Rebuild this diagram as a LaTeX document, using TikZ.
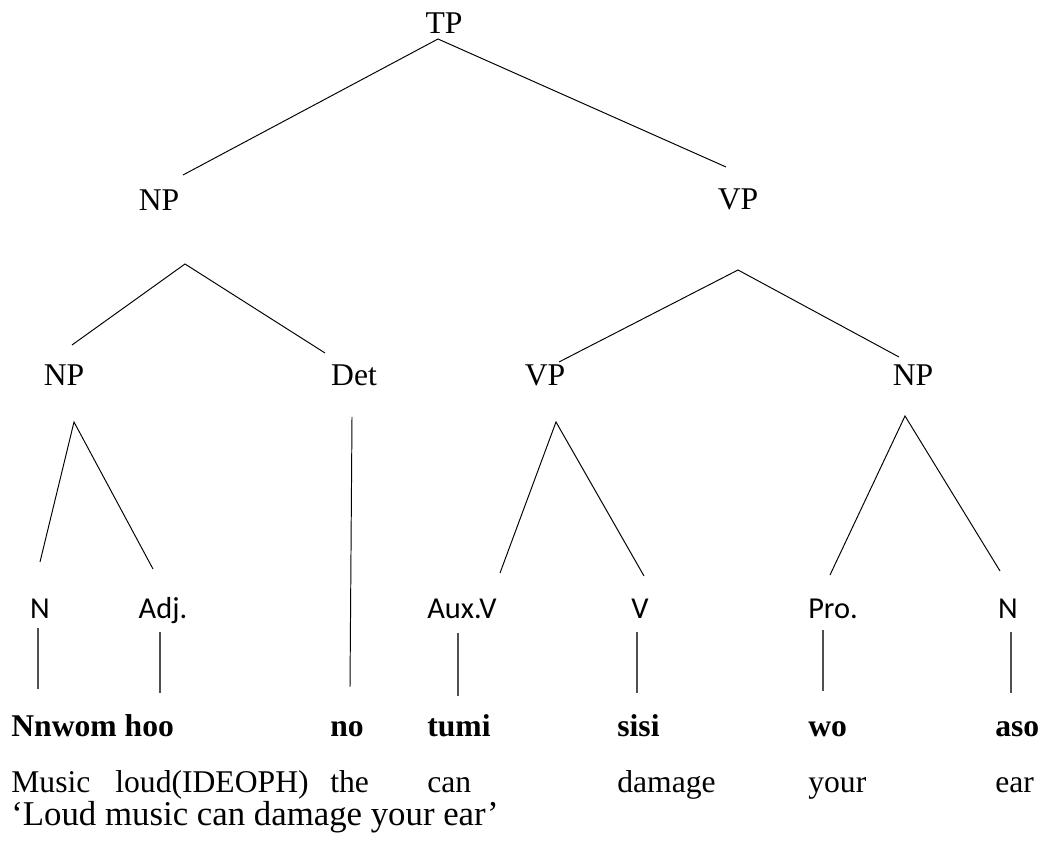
\documentclass[tikz,border=0pt]{standalone}
\usepackage{fontspec}
\setmainfont{Liberation Serif}
\newfontfamily\leaffont{Carlito}
\usepackage{tikz}
\usetikzlibrary{positioning}
\definecolor{leafgray}{HTML}{505050}

\begin{document}
\begin{tikzpicture}[
		scale=1,
		font=\fontsize{18}{21}\selectfont,
		cat/.style={inner sep=0pt},
		leaf/.style={inner sep=0pt,anchor=base,font=\leaffont\fontsize{17.3}{20}\selectfont},
		word/.style={inner sep=0pt,anchor=base west,font=\bfseries\fontsize{18}{21}\selectfont},
		gloss/.style={inner sep=0pt,anchor=base west},
		branch/.style={line width=0.55pt,black},
		stem/.style={line width=0.85pt,leafgray}
		]
		\useasboundingbox (0,0) rectangle (20.96,16.84);
		
		% Phrase labels
		\node[cat] (tp) at (8.88,16.38) {TP};
		\node[cat] (np) at (3.18,12.84) {NP};
		\node[cat] (vp) at (14.76,12.86) {VP};
		\node[cat] (npsub) at (1.28,9.34) {NP};
		\node[cat] (det) at (7.08,9.34) {Det};
		\node[cat] (vpsub) at (10.90,9.34) {VP};
		\node[cat] (npobj) at (18.26,9.34) {NP};
		
		% Word class labels
		\node[leaf] (n) at (0.80,4.46) {N};
		\node[leaf] (adj) at (3.26,4.46) {Adj.};
		\node[leaf] (aux) at (9.24,4.46) {Aux.V};
		\node[leaf] (v) at (12.80,4.46) {V};
		\node[leaf] (pro) at (16.66,4.46) {Pro.};
		\node[leaf] (nobj) at (20.16,4.46) {N};
		
		% Words and glosses
		\node[word] (nnwom) at (0.22,2.10) {Nnwom hoo};
		\node[word] (no) at (6.60,2.10) {no};
		\node[word] (tumi) at (8.54,2.10) {tumi};
		\node[word] (sisi) at (12.34,2.10) {sisi};
		\node[word] (wo) at (16.16,2.10) {wo};
		\node[word] (aso) at (19.90,2.10) {aso};
		
		\node[gloss] (music) at (0.22,0.98) {Music};
		\node[gloss] (loud) at (2.30,0.98) {loud(IDEOPH)};
		\node[gloss] (the) at (6.60,0.98) {the};
		\node[gloss] (can) at (8.54,0.98) {can};
		\node[gloss] (damage) at (12.34,0.98) {damage};
		\node[gloss] (your) at (16.16,0.98) {your};
		\node[gloss] (ear) at (19.90,0.98) {ear};
		\node[gloss,font=\fontsize{19.8}{23}\selectfont] (transl) at (0.22,0.32) {`Loud music can damage your ear'};
		
		\draw
		(8.76,16.06) coordinate (tpA)
		(3.66,13.34) coordinate (tpL)
		(14.52,13.50) coordinate (tpR)
		(3.70,11.56) coordinate (npA)
		(1.44,9.94) coordinate (npL)
		(6.50,9.78) coordinate (npR)
		(14.76,11.44) coordinate (vpA)
		(11.18,9.60) coordinate (vpL)
		(17.98,9.70) coordinate (vpR)
		(1.48,8.40) coordinate (nsA)
		(0.80,5.60) coordinate (nsL)
		(3.06,5.46) coordinate (nsR)
		(7.04,8.50) coordinate (detT)
		(7.00,3.10) coordinate (detB)
		(11.12,8.40) coordinate (vsA)
		(10.00,5.38) coordinate (vsL)
		(12.88,5.32) coordinate (vsR)
		(18.10,8.52) coordinate (noA)
		(16.60,5.34) coordinate (noL)
		(20.00,5.42) coordinate (noR);
		
		% Branches
		\draw[branch] (tpL) -- (tpA) -- (tpR);
		\draw[branch] (npL) -- (npA) -- (npR);
		\draw[branch] (vpL) -- (vpA) -- (vpR);
		\draw[branch] (nsL) -- (nsA) -- (nsR);
		\draw[branch] (detT) -- (detB);
		\draw[branch] (vsL) -- (vsA) -- (vsR);
		\draw[branch] (noL) -- (noA) -- (noR);
		
		% Stems down to the words
		\draw[stem] (0.76,4.28) coordinate (nT) -- (0.76,3.06) coordinate (nB);
		\draw[stem] (3.20,4.20) coordinate (adjT) -- (3.20,2.98) coordinate (adjB);
		\draw[stem] (9.16,4.18) coordinate (auxT) -- (9.16,2.92) coordinate (auxB);
		\draw[stem] (12.74,4.20) coordinate (vT) -- (12.74,2.98) coordinate (vB);
		\draw[stem] (16.46,4.24) coordinate (proT) -- (16.46,3.02) coordinate (proB);
		\draw[stem] (20.22,4.20) coordinate (nobjT) -- (20.22,2.98) coordinate (nobjB);
		\end{tikzpicture}
\end{document}
